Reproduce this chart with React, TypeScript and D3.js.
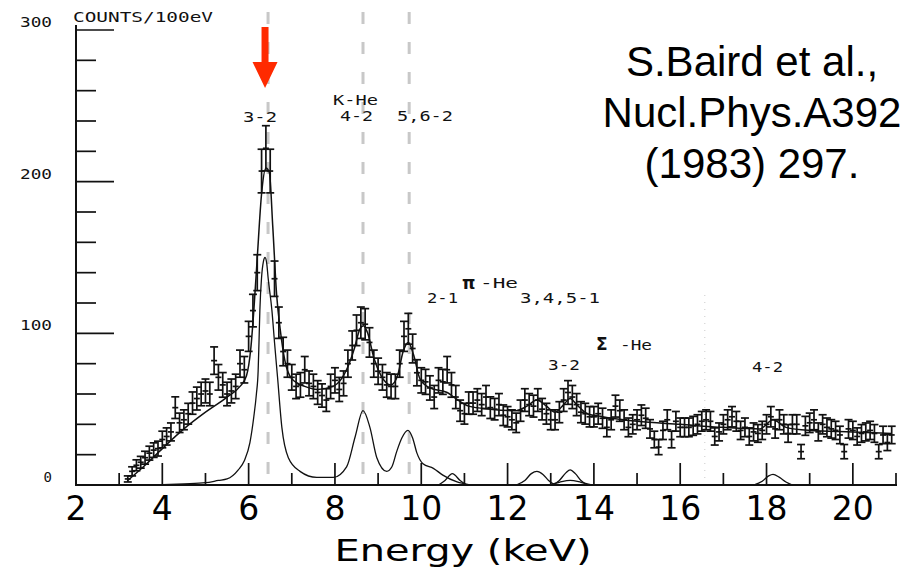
import React from 'react';
import * as d3 from 'd3';

const W = 922;
const H = 570;

// ---- data (counts / 100 eV, bins of 0.1 keV starting at 3.2 keV) ----
const E_START = 3.2;
const E_STEP = 0.1;
const counts = [
  4, 9, 13, 15, 18, 21, 23, 24, 30, 32,
  35, 51, 41, 43, 47, 54, 57, 60, 62, 60,
  82, 71, 66, 60, 62, 65, 80, 76, 98, 115,
  140, 207, 222, 207, 136, 107, 88, 80, 71, 65,
  66, 76, 67, 65, 61, 59, 56, 65, 69, 63,
  67, 80, 92, 102, 107, 106, 94, 80, 75, 71,
  66, 65, 65, 80, 98, 103, 90, 74, 69, 68,
  64, 58, 69, 68, 76, 66, 58, 49, 47, 54,
  54, 56, 53, 58, 51, 50, 53, 46, 45, 43,
  41, 49, 56, 53, 52, 56, 50, 47, 43, 43,
  48, 56, 61, 58, 53, 48, 47, 45, 45, 47,
  44, 38, 43, 52, 49, 43, 38, 40, 43, 46,
  44, 37, 30, 25, 36, 43, 30, 42, 38, 38,
  38, 39, 40, 42, 43, 42, 32, 35, 40, 43,
  45, 42, 36, 38, 32, 35, 34, 36, 40, 45,
  37, 43, 40, 34, 40, 40, 22, 39, 41, 43,
  35, 40, 38, 37, 36, 33, 22, 37, 36, 32,
  34, 35, 36, 34, 22, 33, 28, 33,
];

// total fit curve [keV, counts]
const fitTotal: [number, number][] = [
  [3.2, 3], [3.6, 13], [4.0, 24], [4.5, 37], [5.0, 48], [5.5, 58], [5.8, 65],
  [5.95, 72], [6.05, 90], [6.12, 115], [6.2, 150], [6.3, 192], [6.4, 209],
  [6.48, 206], [6.56, 170], [6.65, 125], [6.73, 103], [6.84, 82], [7.0, 70],
  [7.3, 65], [7.6, 63], [7.95, 65], [8.15, 70], [8.3, 78], [8.45, 90],
  [8.58, 103], [8.66, 105], [8.76, 100], [8.9, 84], [9.07, 72], [9.3, 66],
  [9.45, 72], [9.58, 88], [9.7, 94], [9.82, 86], [9.97, 70], [10.2, 64],
  [10.6, 61], [10.8, 57], [11.1, 52], [11.6, 50], [12.2, 49], [12.45, 52],
  [12.68, 56], [12.9, 52], [13.1, 48], [13.3, 53], [13.45, 57], [13.6, 53],
  [13.85, 47], [14.2, 45], [15.0, 42], [16.0, 40], [17.0, 38], [17.85, 37],
  [18.15, 43], [18.45, 38], [19.0, 36], [20.0, 35], [20.9, 34],
];

// K-He component lines (3-2, 4-2, 5,6-2)
const fitKHe: [number, number][] = [
  [4.0, 0.3], [4.5, 0.8], [5.0, 1.5], [5.3, 3], [5.5, 4], [5.76, 10], [5.9, 16],
  [6.03, 28], [6.12, 45], [6.18, 60], [6.22, 75], [6.24, 94], [6.26, 115],
  [6.3, 137], [6.34, 147], [6.38, 150], [6.42, 146], [6.45, 137], [6.54, 115],
  [6.6, 94], [6.67, 71], [6.77, 38], [6.92, 18], [7.19, 9], [7.58, 5],
  [7.96, 5], [8.27, 12], [8.47, 32], [8.65, 49], [8.81, 38], [8.97, 18],
  [9.2, 9], [9.32, 12], [9.43, 22], [9.55, 31], [9.69, 36], [9.8, 31],
  [9.9, 21], [10.04, 14], [10.28, 11], [10.5, 6.5], [10.83, 2], [11.1, 0.2],
];

// small component peaks
const fitBumpA: [number, number][] = [[10.4, 0], [10.55, 3], [10.72, 7.5], [10.9, 3], [11.05, 0]];
const fitBumpB: [number, number][] = [[12.2, 0], [12.4, 3], [12.55, 7.5], [12.68, 9], [12.82, 7], [12.95, 3], [13.1, 0]];
const fitBumpC: [number, number][] = [[13.05, 0], [13.2, 3], [13.35, 8], [13.45, 10], [13.57, 7.5], [13.7, 3], [13.85, 0]];
const fitBumpD: [number, number][] = [[12.95, 0], [13.2, 1.8], [13.45, 3], [13.7, 1.8], [13.95, 0]];
const fitBumpE: [number, number][] = [[17.7, 0], [17.9, 2.5], [18.05, 6], [18.15, 7], [18.3, 5], [18.45, 2], [18.6, 0]];

const xTickLabels = [2, 4, 6, 8, 10, 12, 14, 16, 18, 20];
const xMinorTicks = [3, 4, 5, 6, 7, 8, 9, 10, 11, 12, 13, 14, 15, 16, 17, 18, 19, 20, 21];
const yLabels = [0, 100, 200, 300];
const yTicks = [20, 40, 60, 80, 100, 120, 140, 160, 180, 200, 220, 240, 260, 280, 300];
const kHeEnergies = [6.45, 8.65, 9.72];
const faintLineEnergy = 16.57;
const arrowEnergy = 6.38;

const refLines = ['S.Baird et al.,', 'Nucl.Phys.A392', '(1983) 297.'];

const INK = '#111';
const MONO = '"DejaVu Sans Mono", monospace';

export default function App() {
  const x = d3.scaleLinear().domain([2, 21]).range([76, 896]);
  const y = d3.scaleLinear().domain([0, 300]).range([485, 30]);
  const line = d3
    .line<[number, number]>()
    .x((d) => x(d[0]))
    .y((d) => y(d[1]))
    .curve(d3.curveMonotoneX);

  const points = counts.map((c, i) => ({ e: E_START + i * E_STEP, c, err: Math.sqrt(c) }));
  const y0 = y(0);
  const ax = x(2);

  const typed = (t: string, px: number, py: number, len: number, key: string) => (
    <text
      key={key}
      x={px}
      y={py}
      fontFamily={MONO}
      fontSize={14}
      textLength={len}
      lengthAdjust="spacingAndGlyphs"
      fill={INK}
    >
      {t}
    </text>
  );

  const ax6 = x(arrowEnergy);

  return (
    <svg
      width={W}
      height={H}
      style={{ position: 'absolute', left: 0, top: 0, background: '#fff' }}
    >
      <rect x={0} y={0} width={W} height={H} fill="#fff" />

      {/* dashed reference lines */}
      {kHeEnergies.map((e, i) => (
        <line
          key={'d' + i}
          x1={x(e)}
          x2={x(e)}
          y1={12}
          y2={y0}
          stroke="#c8c8c8"
          strokeWidth={3}
          strokeDasharray="12 18"
        />
      ))}
      <line
        x1={x(faintLineEnergy)}
        x2={x(faintLineEnergy)}
        y1={295}
        y2={480}
        stroke="#aaa"
        strokeWidth={1}
        strokeDasharray="1 6"
        opacity={0.6}
      />

      {/* axes */}
      <line x1={ax} x2={ax} y1={y(300) - 5} y2={y0 + 1} stroke={INK} strokeWidth={2} />
      <line x1={ax - 1} x2={x(21) + 1} y1={y0} y2={y0} stroke={INK} strokeWidth={2} />
      {yTicks.map((v) => (
        <line
          key={'yt' + v}
          x1={ax}
          x2={ax + (v % 100 === 0 ? 38 : 20)}
          y1={y(v)}
          y2={y(v)}
          stroke={INK}
          strokeWidth={1.7}
        />
      ))}
      {xMinorTicks.map((v) => (
        <line
          key={'xt' + v}
          x1={x(v)}
          x2={x(v)}
          y1={y0}
          y2={y0 - (v % 2 === 0 ? 22 : 12)}
          stroke={INK}
          strokeWidth={1.7}
        />
      ))}
      {yLabels.map((v) => (
        <text
          key={'yl' + v}
          x={52}
          y={y(v) - 3}
          textAnchor="end"
          fontFamily={MONO}
          fontSize={14}
          textLength={v === 0 ? undefined : 32}
          lengthAdjust="spacingAndGlyphs"
          fill={INK}
        >
          {v}
        </text>
      ))}
      {typed('COUNTS/100eV', 73, 22, 140, 'counts')}

      {/* x tick labels and title */}
      {xTickLabels.map((v) => (
        <text
          key={'xl' + v}
          x={x(v)}
          y={520}
          textAnchor="middle"
          fontFamily='"DejaVu Sans", sans-serif'
          fontSize={33}
          fill="#000"
        >
          {v}
        </text>
      ))}
      <text
        x={463}
        y={561}
        textAnchor="middle"
        fontFamily='"DejaVu Sans", sans-serif'
        fontSize={31}
        textLength={257}
        lengthAdjust="spacingAndGlyphs"
        fill="#000"
      >
        Energy (keV)
      </text>

      {/* fit curves */}
      <path d={line(fitTotal) || ''} fill="none" stroke={INK} strokeWidth={1.5} />
      {[fitKHe, fitBumpA, fitBumpB, fitBumpC, fitBumpD, fitBumpE].map((f, i) => (
        <path key={'f' + i} d={line(f) || ''} fill="none" stroke={INK} strokeWidth={1.3} />
      ))}

      {/* data with error bars */}
      {points.map((p, i) => {
        const px = x(p.e);
        const yt = y(p.c + p.err);
        const yb = y(Math.max(0, p.c - p.err));
        const yc = y(p.c);
        return (
          <g key={'p' + i} stroke={INK} strokeWidth={1.7}>
            <line x1={px} x2={px} y1={yt} y2={yb} />
            <line x1={px - 4} x2={px + 4} y1={yt} y2={yt} />
            <line x1={px - 4} x2={px + 4} y1={yb} y2={yb} />
            <line x1={px - 3} x2={px + 3} y1={yc} y2={yc} />
          </g>
        );
      })}

      {/* transition labels */}
      {typed('3-2', 243, 122, 34, 'l1')}
      {typed('K-He', 333, 105, 45, 'l2')}
      {typed('4-2', 340, 121, 33, 'l3')}
      {typed('5,6-2', 397, 121, 56, 'l4')}
      {typed('2-1', 427, 303, 31, 'l5')}
      <text x={462} y={289} fontFamily='"DejaVu Sans", sans-serif' fontWeight="bold" fontSize={17} fill={INK}>
        π
      </text>
      {typed('-He', 480, 288, 38, 'l6')}
      {typed('3,4,5-1', 520, 303, 80, 'l7')}
      <text x={596} y={350} fontFamily='"DejaVu Sans", sans-serif' fontWeight="bold" fontSize={17} fill={INK}>
        Σ
      </text>
      {typed('-He', 620, 350, 32, 'l8')}
      {typed('3-2', 548, 370, 32, 'l9')}
      {typed('4-2', 752, 372, 31, 'l10')}

      {/* red arrow */}
      <path
        d={`M${ax6 - 3.5},27 L${ax6 + 3.5},27 L${ax6 + 3.5},62 L${ax6 + 12.5},62 L${ax6},88 L${ax6 - 12.5},62 L${ax6 - 3.5},62 Z`}
        fill="#ff2a00"
      />

      {/* reference */}
      {refLines.map((t, i) => (
        <text
          key={'r' + i}
          x={752}
          y={76 + i * 51}
          textAnchor="middle"
          fontFamily='"Liberation Sans", Arial, sans-serif'
          fontSize={42}
          fill="#000"
        >
          {t}
        </text>
      ))}
    </svg>
  );
}
